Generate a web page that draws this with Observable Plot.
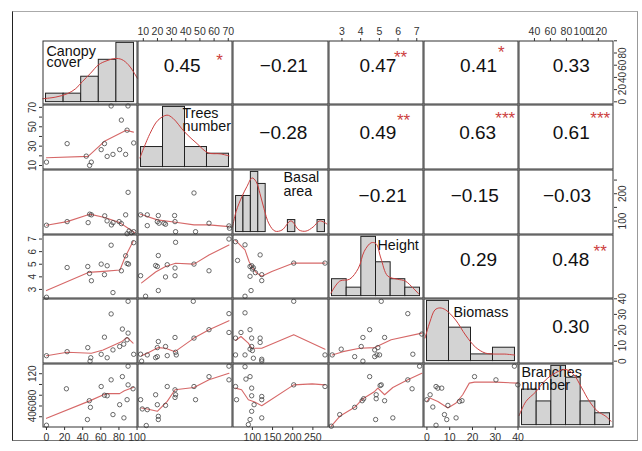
<!DOCTYPE html>
<html><head><meta charset="utf-8">
<script src="https://cdn.jsdelivr.net/npm/d3@7"></script>
<script src="https://cdn.jsdelivr.net/npm/@observablehq/plot@0.6"></script>
<style>
body{margin:0;background:#fff;}
#chart{position:relative;width:642px;height:451px;overflow:hidden;background:#fff;font-family:"Liberation Sans",Arial,sans-serif;}
#border{position:absolute;left:12px;top:11px;width:626px;height:430px;box-sizing:border-box;border-left:1px solid #222;border-top:1px solid #aaa;border-right:1px solid #999;border-bottom:1px solid #777;}
</style></head>
<body><div id="chart"><div id="border"></div></div>
<script>
// ---------- data ----------
const variables = ["Canopy\ncover", "Trees\nnumber", "Basal\narea", "Height", "Biomass", "Branches\nnumber"];

// histogram bin counts (diagonal)
const canopyCounts = [1, 1, 3, 5, 7];
const treesCounts = [3, 9, 3, 2];
const basalCounts = [3, 3, 5, 4, 0, 0, 0, 1, 0, 0, 0, 1];
const heightCounts = [2, 1, 7, 4, 2, 1];
const biomassCounts = [9, 5, 1, 2];
const branchesCounts = [3, 2, 5, 4, 2, 1];

// density curves (bin units, count units)
const canopyDensity = [[-0.19,0.4],[0.56,0.6],[1.22,1.0],[1.69,1.6],[2.06,2.41],[2.53,3.41],[2.99,4.42],[3.47,4.9],[3.93,5.15],[4.31,5.03],[4.68,4.42],[4.96,3.62],[5.19,2.81]];
const treesDensity = [[-0.05,1.37],[0.41,5.03],[0.77,7.0],[1.18,7.77],[1.45,7.3],[2.0,5.18],[2.55,3.5],[3.05,2.13],[3.6,1.98],[4.0,1.68]];
const basalDensity = [[-0.47,0.42],[0,1.7],[0.81,2.97],[1.48,3.8],[2.16,4.5],[2.7,4.2],[3.23,3.2],[3.77,1.95],[4.45,0.68],[5.26,0.08],[6.2,0.17],[7.41,0.93],[8.5,0.17],[9.43,0.08],[10.4,0.42],[11.3,0.93],[12.26,0.68]];
const heightDensity = [[-0.07,0.36],[0.53,1.78],[1.2,2.0],[1.8,3.3],[2.2,5.3],[2.67,6.3],[3.0,6.2],[3.33,4.5],[3.8,2.37],[4.47,2.0],[5.0,1.78],[5.53,0.95],[5.93,0.24]];
const biomassDensity = [[-0.09,3.45],[0.13,5.85],[0.36,7.65],[0.58,7.95],[0.85,7.65],[1.3,6.15],[1.75,3.9],[2.2,2.1],[2.65,1.2],[3.09,1.05],[3.54,1.05],[3.99,0.9]];
const branchesDensity = [[-0.2,0.8],[0.27,2.0],[0.93,2.8],[1.6,3.8],[2.27,4.4],[2.93,4.7],[3.47,4.35],[4.07,3.15],[4.6,2.0],[5.13,1.2],[5.73,0.73],[6.07,0.32]];

// scatter points [x, y] and smoother per lower panel
const canopyTrees = [[0,13.5],[22.8,32.6],[43.9,19.7],[49.5,13.5],[47.6,10.1],[60.4,26.4],[64,32.6],[67,19.4],[73.4,21.5],[71.4,71.5],[90,71.5],[82.7,56.9],[80.8,26.4],[87.4,21.5],[89,46.5],[96.3,33.3]];
const canopyTreesFit = [[0,18],[46,19.5],[64,35],[88,46.5],[96,44.5]];
const canopyBasal = [[0,84.6],[22.8,97.9],[46,94.2],[47.7,125.2],[49.6,122.7],[64.3,119],[66.9,100.5],[73.5,94.2],[71.7,85.8],[80.2,97.9],[82.7,90.6],[87.4,122.7],[90.1,205],[89,53.7],[91.2,63.6],[93.7,57.3],[96.3,61]];
const canopyBasalFit = [[0,84.6],[22.8,97.9],[47.7,125.2],[64.3,112.7],[80.8,94.2],[91.8,69.9],[97.4,57.3]];
const canopyHeight = [[0,2.38],[22.8,4.74],[45.6,4.82],[47.5,4.27],[49.6,3.69],[60.4,5.01],[64,4.17],[67,4.88],[71.4,6.51],[73.4,2.75],[82.7,4.48],[87.4,5.67],[89,5.06],[90.6,5.01],[96.3,6.71]];
const canopyHeightFit = [[0,2.91],[46.3,4.35],[62.8,4.43],[81.1,4.54],[86.6,5.53],[95.8,6.85]];
const canopyBiomass = [[0,3.5],[22.8,6.1],[45.6,8.7],[48.9,2.2],[48.1,0],[60.4,4.4],[64,15.4],[67,2.2],[71.4,30.3],[73.4,7.2],[80.8,9.4],[83.8,20.6],[85.3,10.9],[89,13.7],[90.1,18],[90.1,38.4],[96.3,4.4]];
const canopyBiomassFit = [[0,3.5],[22.8,5.7],[49.6,5.1],[62.5,7.2],[82.7,12.4],[89,15.2],[95.6,11.6]];
const canopyBranches = [[0,24.2],[22,92],[47.3,69.8],[48.5,57.5],[45.2,34.8],[60.4,96.2],[67,79],[71.4,108.6],[73.4,44],[80.8,62.4],[83.8,114.6],[85.5,37.9],[89,71.7],[90.1,99.3],[95.6,92],[64,80],[90.1,134]];
const canopyBranchesFit = [[0,37],[47.7,69.5],[66,83],[80.8,83],[86,88.5],[96.3,95]];
const treesBasal = [[8.1,122.7],[12.8,122.7],[12.8,83.2],[20.6,120.1],[19.9,97.9],[21.1,92],[24.6,92],[25.7,88.3],[32.1,120.1],[32.4,97.9],[32.8,61],[45.8,202.7],[46.9,61],[56.4,92],[70.5,82.1],[70.9,73.6]];
const treesBasalFit = [[8.1,125],[19.9,104.2],[32.8,95.7],[45.8,85.8],[56.4,85.8],[70.5,79.5]];
const treesHeight = [[8.1,4.09],[11.6,2.46],[20.6,5.69],[18.7,4.9],[19.9,4.82],[20.6,2.91],[25.7,3.99],[26.9,4.96],[32.4,4.7],[32.4,4.09],[32.8,6.74],[45.8,5.01],[56.4,4.48],[70.5,7.0]];
const treesHeightFit = [[8.8,3.52],[18.7,4.38],[25.7,4.82],[32.8,5.08],[45.8,5.01],[56.4,5.74],[70.5,6.53]];
const treesBiomass = [[8.1,4.45],[12.8,4.0],[20.6,12.6],[19.9,8.7],[18.7,2.25],[25.7,9.4],[26.9,3.55],[32.4,15.2],[32.8,5.7],[33.3,4.0],[45.8,14.8],[45.3,38.4],[56.4,20.2],[70.5,30.5],[70.5,18.4],[8.8,0],[19.9,2.9]];
const treesBiomassFit = [[8.8,3.55],[12.8,5.1],[20.6,8.7],[25.7,8.3],[32.4,6.1],[45.8,14.8],[56.4,20.2],[70.5,26]];
const treesBranches = [[8.1,71.7],[9.3,54.5],[12.8,53.2],[12.1,23.7],[18.7,80.9],[19.9,62.4],[20.6,40.8],[20.6,34.8],[26.9,96.2],[25.7,61.1],[32.4,90.1],[32.4,75.9],[32.8,80.9],[45.8,96.2],[46.9,71.7],[56.4,114.6],[70.5,108.6],[70.5,134]];
const treesBranchesFit = [[8.8,56.3],[12.8,54.5],[19.9,50.1],[26.9,68.5],[32.4,90.1],[45.8,94.4],[56.4,108.6],[70.5,120.9]];
const basalHeight = [[58.2,6.79],[63.2,5.3],[81.7,6.54],[94.2,4.82],[98.2,4.88],[100,4.62],[94.2,4.04],[96.7,2.91],[119.2,5.74],[123.2,4.17],[123.2,3.7],[202.5,5.09],[280,5.09],[81.7,2.46],[102.5,4.72],[107.5,4.33]];
const basalHeightFit = [[58.2,6.9],[81.7,6.14],[91.7,5.22],[98.2,4.82],[110.7,4.3],[123.2,4.04],[148.2,4.43],[202.5,5.09],[280,5.09]];
const basalBiomass = [[58.2,14.8],[81.7,31],[71.7,18.4],[94.2,20.2],[98.2,14.8],[98.2,9.4],[94.2,7.7],[100,6.8],[102.5,1.9],[81.7,4.0],[58.2,4.0],[119.2,14.8],[119.2,12],[123.2,1.2],[123.2,0.1],[202.5,38.4],[280,4.0]];
const basalBiomassFit = [[58.2,13.3],[71.7,15.8],[90,11.6],[98.2,8.3],[123.2,8.3],[202.5,17],[280,7.7]];
const basalBranches = [[58.2,96.2],[60.7,71.7],[81.7,133],[94.2,114.6],[98.2,93.2],[98.2,79],[98.2,50.1],[94.2,34.8],[90,25.5],[104.2,62.4],[123.2,77.7],[123.2,71.7],[123.2,37.9],[202.5,99.3],[280,96.2],[84,110]];
const basalBranchesFit = [[58.2,93.2],[73.2,90.1],[90,71.7],[102.5,68.5],[123.2,60.6],[202.5,99.3],[248.2,101.2],[280,99.3]];
const heightBiomass = [[2.48,4.0],[2.96,7.7],[3.68,2.9],[4.03,9.4],[4.12,15.2],[4.48,20.2],[4.12,0],[4.75,7.2],[4.75,2.9],[4.87,4.0],[5.01,4.0],[4.92,8.7],[5.28,15.2],[5.1,38.4],[6.52,30.5],[6.79,4.45],[7.27,17.4]];
const heightBiomassFit = [[2.48,4.0],[3.05,6.1],[3.94,8.3],[4.75,8.7],[5.63,13.7],[7.27,18]];
const heightBranches = [[2.43,22.4],[2.88,44],[3.68,57.5],[4.08,69.8],[4.16,73.5],[4.48,114.6],[4.83,73.5],[4.8,34.8],[4.83,80.9],[5.04,98],[5.1,99.3],[5.28,69.8],[5.72,37.9],[6.52,108.6],[6.75,92],[7.15,134]];
const heightBranchesFit = [[2.43,22.4],[2.88,40.8],[3.68,57.5],[4.12,73.5],[4.75,87],[4.92,93.2],[5.28,80.9],[5.72,94.4],[6.52,108.6],[7.27,120.9]];
const biomassBranches = [[0,71.7],[1.4,80.9],[4.0,96.2],[4.8,93.2],[6.5,93.2],[2.6,58.1],[9.2,61.1],[7.7,44],[8.7,34.8],[4.0,24.2],[12.8,37.9],[15.4,69.8],[14.3,68.5],[20.9,114.6],[30.3,108.6],[39.9,99.3],[38.4,134]];
const biomassBranchesFit = [[0,68.5],[1.3,74.8],[4.8,68.5],[9.2,56.3],[12.8,65.6],[15.7,80.9],[18.6,102.5],[20.9,104.3],[30.3,104.3],[39.9,102.5]];

// correlations (upper panels)
const corRow = [0,0,0,0,0,1,1,1,1,2,2,2,3,3,4];
const corCol = [1,2,3,4,5,2,3,4,5,3,4,5,4,5,5];
const corText = ["0.45","−0.21","0.47","0.41","0.33","−0.28","0.49","0.63","0.61","−0.21","−0.15","−0.03","0.29","0.48","0.30"];
const corStars = ["*","","**","*","","","**","***","***","","","","","**",""];

// tick values
const canopyTicks = [0,20,40,60,80,100];
const treesTicks = [10,20,30,40,50,60,70];
const basalTicks = [100,150,200,250];
const heightTicks = [3,4,5,6,7];
const biomassTicks = [0,10,20,30,40];
const branchesTicks = [40,60,80,100,120];

// ---------- layout & style ----------
const chart = document.getElementById("chart");
const colL = [42,137,232,328,423,518,613];
const rowT = [40,104,169,234,298,363,427];
const FONT = "'Liberation Sans', Arial, Helvetica, sans-serif";
const RED = "#cc4040";
const LINE = "#d66868";
const AXIS = "#333";
const domains = [[-4.4,100.5],[5.9,73],[50.7,288.7],[2.28,7.36],[-1.5,40.2],[20,139]];
const corXFrac = [0.47,0.535,0.52,0.58,0.555,0.53,0.52,0.57,0.555,0.57,0.54,0.51,0.58,0.55,0.55];
const corYFrac = [0.39,0.39,0.39,0.39,0.39,0.43,0.43,0.43,0.43,0.40,0.40,0.40,0.40,0.40,0.44];
const starXFrac = [0.863,0,0.758,0.82,0,0,0.79,0.86,0.86,0,0,0,0,0.86,0];
const starYFrac = [0.32,0,0.27,0.19,0,0,0.24,0.21,0.21,0,0,0,0,0.26,0];
const labelPos = [{dx:4,dy:7,lh:0.8},{dx:45,dy:4,lh:0.92},{dx:51,dy:3,lh:0.95},{dx:49,dy:6,lh:0.9},{dx:30,dy:9,lh:0.9},{dx:3,dy:4,lh:0.92}];

function mount(svg, left, top) {
  svg.style.position = "absolute";
  svg.style.left = left + "px";
  svg.style.top = top + "px";
  chart.appendChild(svg);
}
function panel(r, c, scales, marks, m = {}) {
  const mt = m.top || 0, mr = m.right || 0, mb = m.bottom || 0, ml = m.left || 0;
  const W = colL[c + 1] - colL[c], H = rowT[r + 1] - rowT[r];
  const svg = Plot.plot({
    width: W + ml + mr, height: H + mt + mb,
    marginTop: mt, marginRight: mr, marginBottom: mb, marginLeft: ml,
    ...scales,
    style: {background: "transparent", overflow: "visible", fontFamily: FONT, fontSize: "10.5px", color: "#111"},
    marks
  });
  mount(svg, colL[c] - ml, rowT[r] - mt);
}
const frame = () => Plot.frame({stroke: "#333", strokeWidth: 1, inset: 0.5});

// diagonal histograms
const hists = [
  [canopyCounts, canopyDensity], [treesCounts, treesDensity], [basalCounts, basalDensity],
  [heightCounts, heightDensity], [biomassCounts, biomassDensity], [branchesCounts, branchesDensity]
];
hists.forEach(([counts, dens], i) => {
  const nb = counts.length, M = d3.max(counts);
  const bars = counts.map((v, k) => ({x1: k, x2: k + 1, y: v}));
  const lp = labelPos[i];
  panel(i, i, {x: {domain: [-0.04 * nb, 1.04 * nb], axis: null}, y: {domain: [-0.04 * M, 1.04 * M], axis: null}}, [
    Plot.rectY(bars, {x1: "x1", x2: "x2", y: "y", fill: "#d3d3d3", stroke: "#222", strokeWidth: 1}),
    Plot.text([variables[i]], {text: t => t, frameAnchor: "top-left", dx: lp.dx, dy: lp.dy, textAnchor: "start", lineAnchor: "top", fontSize: 14.3, lineHeight: lp.lh, fill: "#111"}),
    Plot.line(dens, {x: p => p[0], y: p => p[1], stroke: RED, strokeWidth: 1, curve: "catmull-rom"}),
    frame()
  ]);
});

// lower scatter panels
const scatters = [
  [1,0,canopyTrees,canopyTreesFit],[2,0,canopyBasal,canopyBasalFit],[3,0,canopyHeight,canopyHeightFit],
  [4,0,canopyBiomass,canopyBiomassFit],[5,0,canopyBranches,canopyBranchesFit],
  [2,1,treesBasal,treesBasalFit],[3,1,treesHeight,treesHeightFit],[4,1,treesBiomass,treesBiomassFit],[5,1,treesBranches,treesBranchesFit],
  [3,2,basalHeight,basalHeightFit],[4,2,basalBiomass,basalBiomassFit],[5,2,basalBranches,basalBranchesFit],
  [4,3,heightBiomass,heightBiomassFit],[5,3,heightBranches,heightBranchesFit],
  [5,4,biomassBranches,biomassBranchesFit]
];
scatters.forEach(([r, c, pts, fit]) => {
  panel(r, c, {x: {domain: domains[c], axis: null}, y: {domain: domains[r], axis: null}}, [
    Plot.line(fit, {x: p => p[0], y: p => p[1], stroke: LINE, strokeWidth: 1.1}),
    Plot.dot(pts, {x: p => p[0], y: p => p[1], r: 2.2, stroke: "#444", strokeWidth: 0.8, fill: "none"}),
    frame()
  ]);
});

// upper correlation panels
corText.forEach((t, k) => {
  const marks = [
    Plot.text([t], {text: d => d, x: corXFrac[k], y: corYFrac[k], fontSize: 19, textAnchor: "middle", lineAnchor: "middle", fill: "#111"})
  ];
  if (corStars[k]) marks.push(Plot.text([corStars[k]], {text: d => d, x: starXFrac[k], y: starYFrac[k], fontSize: 17, textAnchor: "middle", lineAnchor: "middle", fill: RED}));
  marks.push(frame());
  panel(corRow[k], corCol[k], {x: {domain: [0, 1], axis: null}, y: {domain: [0, 1], reverse: true, axis: null}}, marks);
});

// outer axes
function axisPanel(r, c, side, domain, ticks, labels) {
  const M = 26;
  const horiz = side === "top" || side === "bottom";
  const marks = horiz ? [
    Plot.axisX(ticks, {anchor: side, tickSize: 3, tickPadding: 3, fontSize: 10.5, stroke: AXIS, fill: AXIS, label: null,
      tickFormat: d => labels.includes(d) ? String(d) : ""})
  ] : [
    Plot.axisY(ticks, {anchor: side, tickSize: 3, stroke: AXIS, label: null, tickFormat: () => ""}),
    Plot.text(labels, {y: d => d, text: d => String(d), frameAnchor: side, dx: side === "left" ? -7 : 5, rotate: -90,
      textAnchor: "middle", lineAnchor: side === "left" ? "bottom" : "top", fontSize: 10, fill: AXIS})
  ];
  const scales = horiz ? {x: {domain, axis: null}} : {y: {domain, axis: null}};
  panel(r, c, scales, marks, {[side]: M});
}
axisPanel(0, 1, "top", domains[1], treesTicks, treesTicks);
axisPanel(0, 3, "top", domains[3], heightTicks, heightTicks);
axisPanel(0, 5, "top", domains[5], branchesTicks, branchesTicks);
axisPanel(5, 0, "bottom", domains[0], canopyTicks, canopyTicks);
axisPanel(5, 2, "bottom", domains[2], basalTicks, basalTicks);
axisPanel(5, 4, "bottom", domains[4], biomassTicks, biomassTicks);
axisPanel(1, 0, "left", domains[1], treesTicks, [10,30,50,70]);
axisPanel(3, 0, "left", domains[3], heightTicks, heightTicks);
axisPanel(5, 0, "left", domains[5], branchesTicks, [40,60,80,120]);
axisPanel(0, 5, "right", domains[0], canopyTicks, [0,20,40,60,80]);
axisPanel(2, 5, "right", domains[2], basalTicks, [100,200]);
axisPanel(4, 5, "right", domains[4], biomassTicks, biomassTicks);
</script></body></html>
